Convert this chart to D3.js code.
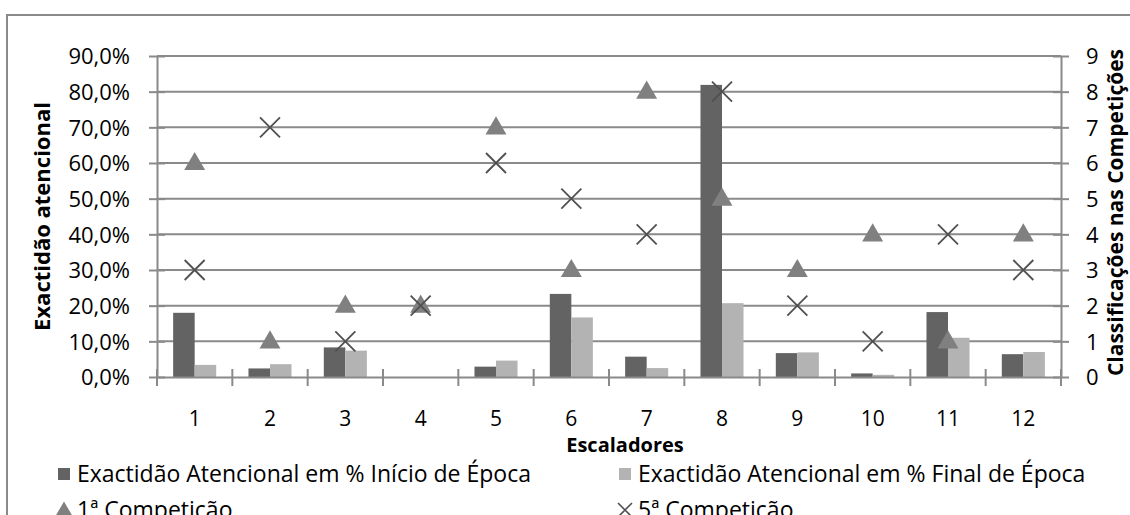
<!DOCTYPE html>
<html>
<head>
<meta charset="utf-8">
<script src="https://cdn.jsdelivr.net/npm/d3@7"></script>
<style>
  html, body { margin: 0; padding: 0; background: #fff; }
  svg { display: block; }
  text { font-family: "Open Sans", Lato, sans-serif; fill: #000; }
</style>
</head>
<body>
<svg id="chart" width="1130" height="515"></svg>
<script>
// Climbers (escaladores) 1..12
const categories = ["1", "2", "3", "4", "5", "6", "7", "8", "9", "10", "11", "12"];
// Attentional accuracy (%) at start and end of season
const inicioEpoca = [18.0, 2.4, 8.3, 0, 2.9, 23.3, 5.7, 81.9, 6.7, 1.0, 18.2, 6.4];
const finalEpoca  = [3.4, 3.6, 7.4, 0, 4.6, 16.7, 2.5, 20.7, 6.9, 0.6, 11.0, 7.0];
// Ranking in competitions
const competicao1 = [6, 1, 2, 2, 7, 3, 8, 5, 3, 4, 1, 4];
const competicao5 = [3, 7, 1, 2, 6, 5, 4, 8, 2, 1, 4, 3];
// Axis ticks
const leftTicks  = [0, 10, 20, 30, 40, 50, 60, 70, 80, 90];
const rightTicks = [0, 1, 2, 3, 4, 5, 6, 7, 8, 9];

const legendLabels = [
  "Exactidão Atencional em % Início de Época",
  "Exactidão Atencional em % Final de Época",
  "1ª Competição",
  "5ª Competição"
];

const svg = d3.select("#chart");
const plot = { left: 157, right: 1061, top: 56, bottom: 377 };
const axisColor = "#8a8a8a";
const darkBar = "#636363", lightBar = "#b3b3b3", triColor = "#808080", xColor = "#505050";
const FONT = "'Open Sans', Lato, sans-serif";

// outer chart frame (left and top edges)
svg.append("path")
  .attr("d", `M7,515 L7,15 L1130,15`)
  .attr("fill", "none").attr("stroke", axisColor).attr("stroke-width", 2);

const x0 = d3.scaleBand().domain(categories).range([plot.left, plot.right]).paddingInner(0).paddingOuter(0);
const x1 = d3.scaleBand().domain(["ini", "fin"]).range([0, x0.bandwidth()]).paddingInner(0).paddingOuter(0.75);
const yL = d3.scaleLinear().domain([0, 90]).range([plot.bottom, plot.top]);
const yR = d3.scaleLinear().domain([0, 9]).range([plot.bottom, plot.top]);

// horizontal gridlines
svg.append("g").selectAll("line")
  .data(leftTicks.filter(d => d > 0))
  .join("line")
  .attr("x1", plot.left).attr("x2", plot.right)
  .attr("y1", d => yL(d)).attr("y2", d => yL(d))
  .attr("stroke", axisColor).attr("stroke-width", 2);

// bars
const groups = svg.append("g").selectAll("g")
  .data(categories)
  .join("g")
  .attr("transform", d => `translate(${x0(d)},0)`);

groups.append("rect")
  .attr("x", x1("ini")).attr("width", x1.bandwidth())
  .attr("y", (d, i) => yL(inicioEpoca[i]))
  .attr("height", (d, i) => plot.bottom - yL(inicioEpoca[i]))
  .attr("fill", darkBar);

groups.append("rect")
  .attr("x", x1("fin")).attr("width", x1.bandwidth())
  .attr("y", (d, i) => yL(finalEpoca[i]))
  .attr("height", (d, i) => plot.bottom - yL(finalEpoca[i]))
  .attr("fill", lightBar);

// left axis
const leftAxis = d3.axisLeft(yL).tickValues(leftTicks).tickSizeInner(8).tickSizeOuter(0)
  .tickFormat(d => d.toFixed(1).replace(".", ",") + "%");
const gL = svg.append("g").attr("transform", `translate(${plot.left},0)`).call(leftAxis);
gL.select(".domain").attr("stroke", axisColor).attr("stroke-width", 2);
gL.selectAll(".tick line").attr("stroke", axisColor).attr("stroke-width", 2).attr("x1", 8).attr("x2", -8);
gL.selectAll(".tick text").attr("x", -27).attr("font-size", 22).attr("dy", "0.36em")
  .attr("font-family", FONT).attr("fill", "#000");

// right axis
const rightAxis = d3.axisRight(yR).tickValues(rightTicks).tickSizeInner(8).tickSizeOuter(0);
const gR = svg.append("g").attr("transform", `translate(${plot.right},0)`).call(rightAxis);
gR.select(".domain").attr("stroke", axisColor).attr("stroke-width", 2);
gR.selectAll(".tick line").attr("stroke", axisColor).attr("stroke-width", 2).attr("x1", -8).attr("x2", 8);
gR.selectAll(".tick text").attr("x", 25).attr("font-size", 22).attr("dy", "0.36em")
  .attr("font-family", FONT).attr("fill", "#000");

// category axis
const xAxis = d3.axisBottom(x0).tickSize(0);
const gX = svg.append("g").attr("transform", `translate(0,${plot.bottom})`).call(xAxis);
gX.select(".domain").attr("stroke", axisColor).attr("stroke-width", 2);
gX.selectAll(".tick text").attr("y", 49).attr("dy", "0").attr("font-size", 21)
  .attr("font-family", FONT).attr("fill", "#000");
// boundary ticks between categories
gX.append("g").selectAll("line")
  .data(d3.range(categories.length + 1))
  .join("line")
  .attr("x1", i => plot.left + i * x0.step()).attr("x2", i => plot.left + i * x0.step())
  .attr("y1", -8).attr("y2", 9)
  .attr("stroke", axisColor).attr("stroke-width", 2);

// markers
const cx = d => x0(d) + x0.bandwidth() / 2;
const tri = d3.symbol().type(d3.symbolTriangle).size(190);
svg.append("g").selectAll("path")
  .data(categories)
  .join("path")
  .attr("d", tri)
  .attr("transform", (d, i) => `translate(${cx(d)},${yR(competicao1[i]) + 1})`)
  .attr("fill", triColor);

const cross = 10;
svg.append("g").selectAll("path")
  .data(categories)
  .join("path")
  .attr("d", `M${-cross},${-cross}L${cross},${cross}M${-cross},${cross}L${cross},${-cross}`)
  .attr("transform", (d, i) => `translate(${cx(d)},${yR(competicao5[i])})`)
  .attr("stroke", xColor).attr("stroke-width", 1.8).attr("fill", "none");

// axis titles
svg.append("text")
  .attr("transform", `translate(50,${(plot.top + plot.bottom) / 2}) rotate(-90)`)
  .attr("text-anchor", "middle").attr("font-weight", "bold").attr("font-size", 22)
  .text("Exactidão atencional");

svg.append("text")
  .attr("transform", `translate(1123,${(plot.top + plot.bottom) / 2 - 4}) rotate(-90)`)
  .attr("text-anchor", "middle").attr("font-weight", "bold").attr("font-size", 21)
  .text("Classificações nas Competições");

svg.append("text")
  .attr("x", 625).attr("y", 452)
  .attr("text-anchor", "middle").attr("font-weight", "bold").attr("font-size", 20)
  .text("Escaladores");

// legend
const legendPos = [
  { x: 58, y: 474 }, { x: 619, y: 474 },
  { x: 58, y: 510 }, { x: 619, y: 510 }
];
const leg = svg.append("g");
legendLabels.forEach((label, i) => {
  const p = legendPos[i];
  const g = leg.append("g").attr("transform", `translate(${p.x},${p.y})`);
  if (i < 2) {
    g.append("rect").attr("x", 0).attr("y", -6).attr("width", 12).attr("height", 12)
      .attr("fill", i === 0 ? darkBar : lightBar);
  } else if (i === 2) {
    g.append("path").attr("d", d3.symbol().type(d3.symbolTriangle).size(120))
      .attr("transform", "translate(6,1)").attr("fill", triColor);
  } else {
    g.append("path").attr("d", "M-1,-7L13,7M-1,7L13,-7")
      .attr("stroke", xColor).attr("stroke-width", 1.6);
  }
  g.append("text").attr("x", 19).attr("y", 0).attr("dy", "0.36em")
    .attr("font-size", 23).text(label);
});
</script>
</body>
</html>
